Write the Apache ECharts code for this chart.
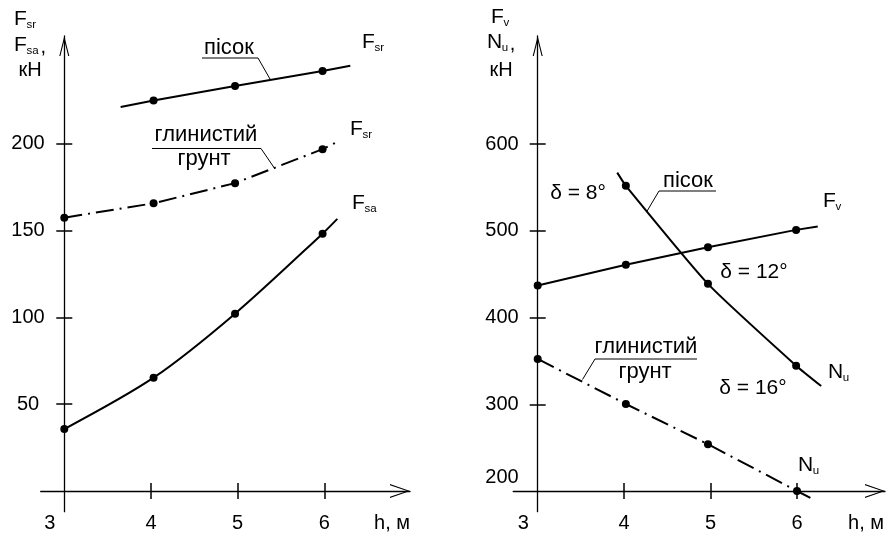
<!DOCTYPE html>
<html><head><meta charset="utf-8">
<script src="https://cdn.jsdelivr.net/npm/echarts@6/dist/echarts.min.js"></script>
<style>html,body{margin:0;padding:0;background:#fff}#c{width:888px;height:540px}</style>
</head><body><div id="c"></div>
<script>
// ---- data ----
const hTickLabels = [3, 4, 5, 6];
const leftYTickLabels = [50, 100, 150, 200];
const rightYTickLabels = [200, 300, 400, 500, 600];

// left chart: Fsr (sand), Fsr (clay soil), Fsa  [kN] vs h [m]
const fsrSandH = [3.65, 4.03, 4.97, 5.98, 6.30];
const fsrSandV = [221.3, 225.0, 233.4, 242.0, 245.1];
const fsrSandDots = [false, true, true, true, false];

const fsrClayH = [3.0, 4.03, 4.97, 5.98, 6.17];
const fsrClayV = [157.5, 165.8, 177.4, 197.0, 201.7];
const fsrClayDots = [true, true, true, true, false];

const fsaH = [3.0, 4.03, 4.97, 5.98, 6.15];
const fsaV = [35.7, 65.3, 102.2, 148.3, 156.8];
const fsaDots = [true, true, true, true, false];

// right chart: Fv (sand), Nu (sand), Nu (clay soil)
const fvH = [3.0, 4.02, 4.97, 5.99, 6.24];
const fvV = [436.8, 460.7, 481.0, 501.0, 504.8];
const fvDots = [true, true, true, true, false];

const nuSandH = [3.92, 4.02, 4.97, 5.99, 6.28];
const nuSandV = [567.0, 551.8, 438.8, 344.5, 321.0];
const nuSandDots = [false, true, true, true, false];

const nuClayH = [3.0, 4.02, 4.97, 6.0, 6.19];
const nuClayV = [352.2, 300.3, 253.9, 200.0, 190.4];
const nuClayDots = [true, true, true, true, false];

// ---- helpers ----
const FONT = '"Liberation Sans", Arial, sans-serif';
const X0 = 3;          // h value where the y-axis crosses
const RY0 = 200;       // right chart value where x-axis crosses
const X_ARROW = 'path://M0,0 L7,20 L5.8,20 L0,3 L-5.8,20 L-7,20 Z';
const Y_ARROW = 'path://M0,0 L5,20 L3.9,20 L0,4.5 L-3.9,20 L-5,20 Z';

function pts(h, v, dots, yShift) {
  return h.map((x, i) => dots[i]
    ? { value: [x - X0, v[i] - yShift] }
    : { value: [x - X0, v[i] - yShift], symbol: 'none' });
}

function lineSeries(xi, yi, h, v, dots, yShift, dashed, smooth) {
  return {
    type: 'line', xAxisIndex: xi, yAxisIndex: yi,
    data: pts(h, v, dots, yShift),
    smooth: smooth || false, clip: false,
    symbol: 'circle', symbolSize: 8, showAllSymbol: true,
    itemStyle: { color: '#000' },
    lineStyle: { color: '#000', width: 2, type: dashed ? [18, 6, 2, 6] : 'solid' },
    z: 5
  };
}

const tickStyle = { color: '#000', width: 1.5 };
const lblBase = { color: '#000', fontSize: 20, fontFamily: FONT };

function xAxes(gi, min, max) {
  const tickVals = hTickLabels.slice(1).map(v => v - X0);
  const base = { type: 'value', gridIndex: gi, min, max, position: 'bottom', splitLine: { show: false } };
  return [
    Object.assign({}, base, {
      axisLine: { onZero: true, lineStyle: { color: '#000', width: 1.3 },
        symbol: ['none', X_ARROW], symbolSize: [14, 20], symbolOffset: [0, -10] },
      axisTick: { show: true, inside: false, length: 8, customValues: tickVals, lineStyle: tickStyle },
      axisLabel: Object.assign({}, lblBase, {
        customValues: hTickLabels.map(v => v - X0), margin: 2,
        formatter: v => (v === 0 ? '{a|' + (v + X0) + '}' : String(v + X0)),
        rich: { a: Object.assign({}, lblBase, { padding: [0, 29, 0, 0] }) }
      })
    }),
    Object.assign({}, base, {
      axisLine: { onZero: true, lineStyle: { color: '#000', width: 1.3, opacity: 0 } },
      axisTick: { show: true, inside: true, length: 8, customValues: tickVals, lineStyle: tickStyle },
      axisLabel: { show: false }
    })
  ];
}

function yAxes(gi, min, max, labelVals, tickVals, shift, firstUp, margin) {
  const base = { type: 'value', gridIndex: gi, min, max, position: 'left', splitLine: { show: false } };
  return [
    Object.assign({}, base, {
      axisLine: { onZero: true, lineStyle: { color: '#000', width: 1.3 },
        symbol: ['none', Y_ARROW], symbolSize: [10, 20], symbolOffset: [0, -10] },
      axisTick: { show: true, inside: false, length: 8, customValues: tickVals.map(v => v - shift), lineStyle: tickStyle },
      axisLabel: Object.assign({}, lblBase, {
        customValues: labelVals.map(v => v - shift), margin: margin, align: 'center',
        formatter: v => (firstUp && v === 0 ? '{a|' + (v + shift) + '}' : String(v + shift)),
        rich: { a: Object.assign({}, lblBase, { padding: [0, 0, 28, 0] }) }
      })
    }),
    Object.assign({}, base, {
      axisLine: { onZero: true, lineStyle: { color: '#000', width: 1.3, opacity: 0 } },
      axisTick: { show: true, inside: true, length: 8, customValues: tickVals.map(v => v - shift), lineStyle: tickStyle },
      axisLabel: { show: false }
    })
  ];
}

function T(x, y, s, size, align) {
  return { type: 'text', x: x, y: y, silent: true, z: 10,
    style: { text: s, font: (size || 20) + 'px ' + FONT, fill: '#000', align: align || 'left', verticalAlign: 'middle' } };
}
function FS(x, y, main, sub, extra) {
  const w = main === 'N' ? 14.8 : 12.4;
  const out = [T(x, y, main, 21), T(x + w, y + 6, sub, 11.5)];
  if (extra) out.push(T(x + w + sub.length * 6 + 2, y + 2, extra, 20));
  return out;
}
function L(p, w) {
  return { type: 'polyline', silent: true, z: 10, shape: { points: p }, style: { stroke: '#000', lineWidth: w || 1, fill: null } };
}

const ANN = 22;   // annotation (Cyrillic) font size
const DEL = 21;   // delta labels font size

const graphics = [].concat(
  // left axis name
  FS(14, 19, 'F', 'sr'), FS(14, 45, 'F', 'sa', ','), [T(30, 70, 'кН', 20, 'center')],
  // left annotations
  [T(229, 48, 'пісок', ANN, 'center'), L([[202, 58], [258, 58], [270, 79]])],
  FS(362, 42, 'F', 'sr'),
  [T(206, 135, 'глинистий', ANN, 'center'), T(204, 159, 'грунт', ANN, 'center'), L([[152, 148.5], [261, 148.5], [275, 169]])],
  FS(350, 129, 'F', 'sr'),
  FS(352, 203, 'F', 'sa'),
  [T(392, 523, 'h, м', 20, 'center')],
  // right axis name
  FS(491, 17, 'F', 'v'), FS(487, 42, 'N', 'u', ','), [T(501, 70, 'кН', 20, 'center')],
  // right annotations
  [T(578, 193, 'δ = 8°', DEL, 'center'), T(688, 181, 'пісок', ANN, 'center'), L([[646.5, 212], [659, 191], [716, 191]])],
  FS(823, 201, 'F', 'v'),
  [T(754, 272, 'δ = 12°', DEL, 'center'), T(753, 388, 'δ = 16°', DEL, 'center')],
  FS(828, 372, 'N', 'u'),
  [T(646, 347, 'глинистий', ANN, 'center'), T(645, 372, 'грунт', ANN, 'center'), L([[582.5, 379.5], [595, 359], [697, 359]])],
  FS(798, 465, 'N', 'u'),
  [T(866, 523, 'h, м', 20, 'center')]
);

const chart = echarts.init(document.getElementById('c'), null, { renderer: 'canvas' });
chart.setOption({
  animation: false,
  backgroundColor: '#fff',
  textStyle: { fontFamily: FONT },
  grid: [
    { left: 40.7, top: 36, width: 369.3, height: 475.7, outerBoundsMode: 'none', containLabel: false },
    { left: 513.3, top: 36, width: 371.7, height: 475.7, outerBoundsMode: 'none', containLabel: false }
  ],
  xAxis: [].concat(
    xAxes(0, -0.2723, 3.9887),
    xAxes(1, -0.2823, 4.0183)
  ),
  yAxis: [].concat(
    yAxes(0, -11.93, 262.2, leftYTickLabels, leftYTickLabels, 0, false, 12.7),
    yAxes(1, -23.86, 524.5, rightYTickLabels, rightYTickLabels.slice(1), RY0, true, 11.3)
  ),
  series: [
    lineSeries(0, 0, fsrSandH, fsrSandV, fsrSandDots, 0, false),
    lineSeries(0, 0, fsrClayH, fsrClayV, fsrClayDots, 0, true),
    lineSeries(0, 0, fsaH, fsaV, fsaDots, 0, false, 0.3),
    lineSeries(2, 2, fvH, fvV, fvDots, RY0, false),
    lineSeries(2, 2, nuSandH, nuSandV, nuSandDots, RY0, false, 0.15),
    lineSeries(2, 2, nuClayH, nuClayV, nuClayDots, RY0, true)
  ],
  graphic: { elements: graphics }
});
</script>
</body></html>
